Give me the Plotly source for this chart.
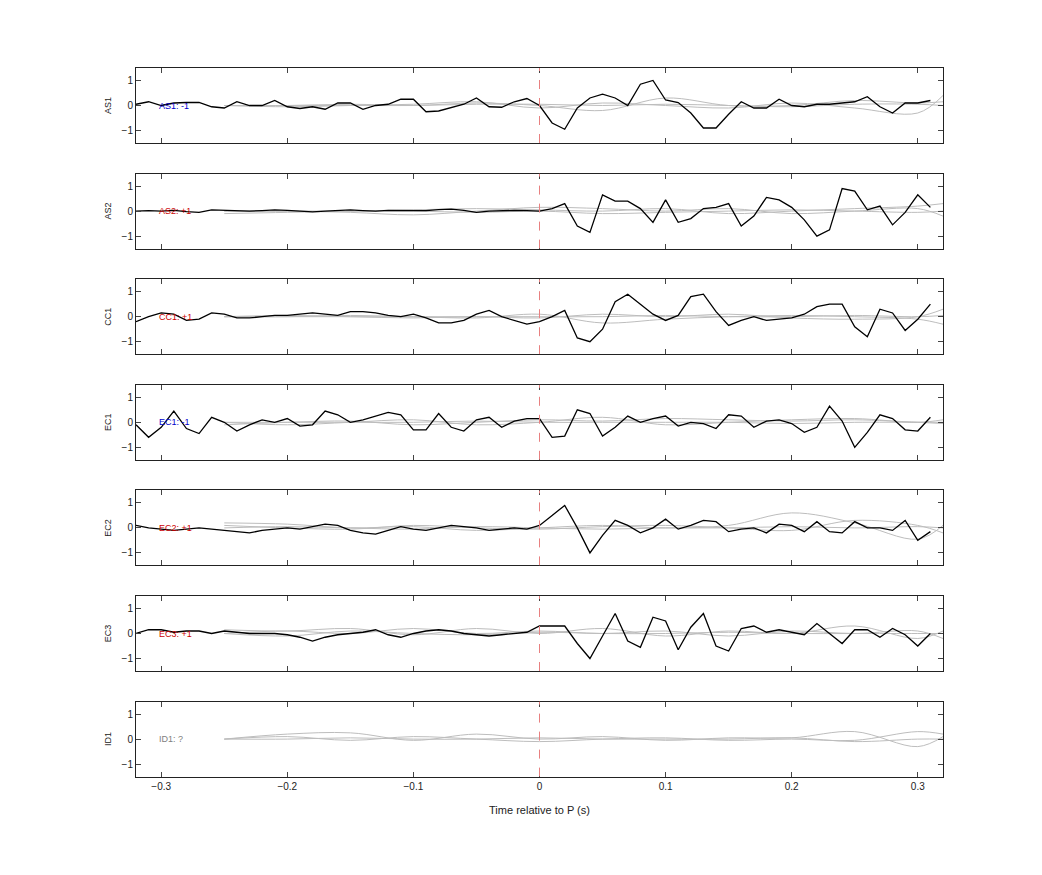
import numpy as np
import plotly.graph_objects as go

STATIONS = ["AS1", "AS2", "CC1", "EC1", "EC2", "EC3", "ID1"]
LABELS = ["AS1: -1", "AS2: +1", "CC1: +1", "EC1: -1", "EC2: +1", "EC3: +1", "ID1: ?"]
LABEL_COLORS = ["#0000cc", "#cc0000", "#cc0000", "#0000cc", "#cc0000", "#cc0000", "#808080"]

# black traces sampled every 0.01 s from -0.32 to 0.31
T = np.round(np.arange(-0.32, 0.315, 0.01), 2)
BLACK = {
    "AS1": [0.05, 0.15, 0.0, 0.1, 0.12, 0.12, -0.05, -0.1, 0.15, 0.0, 0.0, 0.2, -0.05, -0.12, -0.05, -0.15,
            0.1, 0.1, -0.15, 0.0, 0.05, 0.25, 0.25, -0.25, -0.22, -0.1, 0.05, 0.3, -0.05, -0.07, 0.15, 0.28,
            0.0, -0.7, -0.95, -0.1, 0.3, 0.45, 0.3, 0.0, 0.85, 1.0, 0.22, 0.12, -0.3, -0.9, -0.9, -0.35,
            0.15, -0.1, -0.1, 0.25, 0.0, -0.05, 0.05, 0.05, 0.1, 0.15, 0.35, -0.05, -0.3, 0.1, 0.1, 0.2],
    "AS2": [0.0, 0.02, 0.0, 0.03, -0.02, -0.05, 0.05, 0.03, 0.0, 0.0, 0.02, 0.05, 0.03, 0.0, -0.03, 0.0,
            0.02, 0.05, 0.02, 0.0, 0.03, 0.03, 0.0, 0.02, 0.06, 0.08, 0.03, -0.05, 0.0, 0.03, 0.03, 0.02,
            0.0, 0.1, 0.3, -0.6, -0.85, 0.65, 0.4, 0.4, 0.1, -0.45, 0.45, -0.45, -0.3, 0.1, 0.15, 0.3,
            -0.6, -0.2, 0.55, 0.45, 0.15, -0.35, -1.0, -0.75, 0.9, 0.8, 0.05, 0.2, -0.55, -0.05, 0.65, 0.15],
    "CC1": [-0.2, 0.0, 0.15, 0.1, -0.15, -0.1, 0.15, 0.1, -0.05, -0.05, 0.0, 0.05, 0.05, 0.1, 0.15, 0.1,
            0.05, 0.2, 0.2, 0.15, 0.05, 0.0, 0.1, -0.05, -0.25, -0.25, -0.15, 0.1, 0.25, 0.0, -0.15, -0.3,
            -0.2, 0.0, 0.25, -0.85, -1.0, -0.5, 0.6, 0.9, 0.5, 0.1, -0.15, 0.05, 0.8, 0.9, 0.2, -0.35,
            -0.15, 0.0, -0.15, -0.1, -0.05, 0.1, 0.4, 0.5, 0.5, -0.4, -0.8, 0.3, 0.15, -0.55, -0.1, 0.5],
    "EC1": [-0.1, -0.6, -0.2, 0.45, -0.25, -0.45, 0.2, 0.0, -0.35, -0.1, 0.1, 0.0, 0.15, -0.15, -0.1, 0.45,
            0.3, 0.0, 0.1, 0.25, 0.4, 0.3, -0.3, -0.3, 0.35, -0.2, -0.35, 0.1, 0.2, -0.2, 0.05, 0.15,
            0.15, -0.6, -0.55, 0.5, 0.35, -0.55, -0.2, 0.25, 0.0, 0.15, 0.25, -0.15, 0.0, -0.05, -0.25, 0.3,
            0.25, -0.2, 0.05, 0.1, -0.05, -0.4, -0.2, 0.65, 0.05, -1.0, -0.4, 0.3, 0.15, -0.3, -0.35, 0.2],
    "EC2": [0.1, 0.0, -0.05, -0.1, -0.05, 0.0, -0.05, -0.1, -0.15, -0.2, -0.1, -0.05, 0.0, -0.05, 0.05, 0.15,
            0.1, -0.1, -0.2, -0.25, -0.1, 0.05, -0.05, -0.1, 0.0, 0.1, 0.05, 0.0, -0.1, -0.05, 0.0, -0.05,
            0.1, 0.5, 0.9, 0.0, -1.0, -0.3, 0.3, 0.1, -0.2, 0.0, 0.35, -0.05, 0.1, 0.3, 0.25, -0.15,
            -0.05, 0.0, -0.2, 0.15, 0.1, -0.15, 0.25, -0.15, -0.2, 0.25, 0.0, 0.0, -0.1, 0.3, -0.5, -0.15],
    "EC3": [0.0, 0.15, 0.15, 0.05, 0.1, 0.1, 0.0, 0.1, 0.05, 0.0, 0.0, 0.0, -0.05, -0.15, -0.3, -0.15,
            -0.05, 0.0, 0.05, 0.15, -0.05, -0.15, 0.0, 0.1, 0.15, 0.1, 0.0, -0.05, -0.1, -0.05, 0.0, 0.05,
            0.3, 0.3, 0.3, -0.4, -1.0, -0.1, 0.8, -0.3, -0.55, 0.65, 0.5, -0.65, 0.25, 0.8, -0.5, -0.7,
            0.2, 0.3, 0.05, 0.15, 0.05, -0.05, 0.4, 0.0, -0.4, 0.15, 0.15, -0.15, 0.2, -0.05, -0.5, 0.0],
}

# grey reference traces sampled every 0.05 s from -0.25 to 0.30, plus 0.32
TG = [-0.25, -0.20, -0.15, -0.10, -0.05, 0.0, 0.05, 0.10, 0.15, 0.20, 0.25, 0.30, 0.32]
GREY = {
    "AS1": [[0.0, 0.0, 0.05, 0.0, 0.1, 0.0, -0.2, 0.3, 0.0, 0.0, 0.2, 0.1, 0.15],
            [0.0, -0.05, 0.0, 0.05, 0.15, -0.1, 0.1, 0.0, -0.1, 0.1, -0.1, -0.3, 0.4],
            [0.0, 0.0, 0.0, 0.0, 0.05, 0.05, 0.0, 0.05, 0.0, -0.05, 0.05, 0.05, 0.0]],
    "AS2": [[-0.1, -0.05, 0.0, 0.05, 0.1, 0.05, 0.0, 0.1, -0.1, 0.0, 0.1, 0.2, 0.3],
            [0.0, 0.0, -0.05, -0.15, 0.0, 0.15, 0.1, 0.0, 0.1, -0.1, 0.0, 0.1, -0.2],
            [0.0, 0.0, 0.0, 0.0, -0.05, 0.0, -0.1, -0.05, 0.0, 0.05, 0.0, -0.05, 0.0]],
    "CC1": [[0.0, 0.05, 0.0, -0.05, 0.0, -0.05, 0.1, 0.0, 0.1, -0.05, -0.1, 0.0, 0.3],
            [0.0, 0.0, 0.05, 0.0, -0.05, 0.1, -0.25, -0.1, 0.0, 0.05, 0.0, -0.1, -0.3],
            [0.0, 0.0, 0.0, 0.0, 0.0, 0.0, 0.0, 0.05, 0.0, 0.0, 0.05, 0.0, 0.05]],
    "EC1": [[-0.1, 0.0, 0.05, -0.1, 0.0, 0.1, 0.05, 0.15, 0.1, 0.05, 0.1, 0.0, -0.05],
            [0.0, -0.1, 0.0, 0.1, -0.1, 0.0, 0.2, -0.1, 0.0, 0.1, 0.15, 0.0, 0.1],
            [0.0, 0.0, 0.0, 0.0, 0.05, 0.0, 0.0, 0.0, 0.0, -0.05, 0.0, 0.0, 0.0]],
    "EC2": [[0.2, 0.15, 0.0, 0.05, -0.1, 0.0, 0.1, 0.0, 0.1, 0.6, 0.2, -0.45, 0.1],
            [0.1, 0.0, -0.05, 0.1, 0.0, -0.05, 0.05, 0.1, 0.0, -0.1, 0.3, 0.1, -0.2],
            [0.0, 0.05, 0.0, -0.05, 0.05, 0.0, -0.05, 0.0, 0.0, 0.05, 0.0, 0.05, 0.0]],
    "EC3": [[0.15, 0.1, 0.2, -0.05, 0.2, 0.0, 0.2, -0.1, 0.1, 0.0, 0.3, -0.2, 0.1],
            [0.0, 0.1, 0.0, 0.2, 0.0, 0.1, 0.0, 0.1, -0.1, 0.1, 0.0, 0.1, -0.2],
            [0.0, -0.1, 0.1, 0.0, -0.05, 0.05, 0.0, 0.0, 0.05, 0.0, 0.0, 0.0, 0.0]],
    "ID1": [[0.0, 0.2, 0.25, -0.05, 0.2, 0.0, 0.1, -0.05, 0.05, 0.05, 0.3, -0.3, 0.1],
            [0.0, 0.1, -0.05, 0.1, 0.0, -0.1, 0.0, 0.05, -0.05, 0.0, -0.05, 0.3, 0.2],
            [0.0, 0.0, 0.05, 0.0, 0.0, 0.05, 0.0, 0.0, 0.0, 0.05, -0.1, 0.0, 0.0]],
}

FONT = "Liberation Sans"
fig = go.Figure()
n = len(STATIONS)
top0, h, step = 60 / 875, 75 / 875, 105.6 / 875

for i, st in enumerate(STATIONS):
    k = "" if i == 0 else str(i + 1)
    for g in GREY[st]:
        fig.add_trace(go.Scatter(x=TG, y=g, mode="lines", line=dict(color="#bdbdbd", width=1, shape="spline"),
                                 xaxis="x" + k, yaxis="y" + k, showlegend=False))
    if st in BLACK:
        fig.add_trace(go.Scatter(x=T, y=BLACK[st], mode="lines", line=dict(color="black", width=1.3),
                                 xaxis="x" + k, yaxis="y" + k, showlegend=False))
    top = 1 - top0 - i * step
    ax = dict(domain=[128 / 1042, 935 / 1042], range=[-0.32, 0.32], tickvals=[-0.3, -0.2, -0.1, 0, 0.1, 0.2, 0.3],
              ticks="inside", ticklen=5, mirror="ticks", showline=True, linecolor="#222", linewidth=1,
              showgrid=False, zeroline=False, showticklabels=(i == n - 1), anchor="y" + k, automargin=False,
              tickfont=dict(size=10, family=FONT, color="#222"))
    if i == n - 1:
        ax["title"] = dict(text="Time relative to P (s)", font=dict(size=11, family=FONT, color="#222"))
    ay = dict(domain=[top - h, top], range=[-1.5, 1.5], tickvals=[-1, 0, 1], ticks="inside", ticklen=5,
              mirror="ticks", showline=True, linecolor="#222", linewidth=1, showgrid=False, zeroline=False,
              anchor="x" + k, automargin=False, tickfont=dict(size=10, family=FONT, color="#222"),
              title=dict(text=st, font=dict(size=9, family=FONT, color="#222"), standoff=8))
    fig.layout["xaxis" + k] = ax
    fig.layout["yaxis" + k] = ay
    fig.add_shape(type="line", x0=0, x1=0, y0=-1.5, y1=1.5, xref="x" + k, yref="y" + k,
                  line=dict(color="#e88080", width=1, dash="dash"))
    fig.add_annotation(x=-0.303, y=0, xref="x" + k, yref="y" + k, text=LABELS[i], showarrow=False,
                       xanchor="left", font=dict(size=9, family=FONT, color=LABEL_COLORS[i]))

fig.update_layout(width=1042, height=875, paper_bgcolor="white", plot_bgcolor="white",
                  margin=dict(l=0, r=0, t=0, b=0))
fig.write_html("out.html")
